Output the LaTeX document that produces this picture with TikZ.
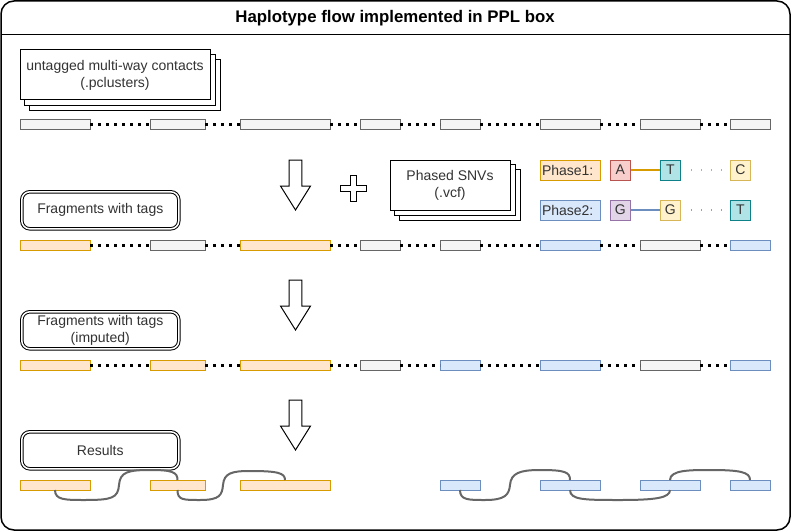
\documentclass[tikz,border=0pt]{standalone}
\usepackage{fontspec}
\setmainfont{Liberation Sans}
\definecolor{grayF}{HTML}{F5F5F5}
\definecolor{grayS}{HTML}{666666}
\definecolor{orF}{HTML}{FFE6CC}
\definecolor{orS}{HTML}{D79B00}
\definecolor{blF}{HTML}{DAE8FC}
\definecolor{blS}{HTML}{6C8EBF}
\definecolor{redF}{HTML}{F8CECC}
\definecolor{redS}{HTML}{B85450}
\definecolor{tealF}{HTML}{B0E3E6}
\definecolor{tealS}{HTML}{0E8088}
\definecolor{yelF}{HTML}{FFF2CC}
\definecolor{yelS}{HTML}{D6B656}
\definecolor{purF}{HTML}{E1D5E7}
\definecolor{purS}{HTML}{9673A6}
\definecolor{txt}{HTML}{333333}
\newcommand\bodyfont{\fontsize{14}{16.8}\selectfont}
\newcommand\titlefont{\fontsize{16.8}{20}\selectfont\bfseries}
\tikzset{
  bartype/.style={rectangle, draw, line width=1pt, minimum height=10pt, inner sep=0pt, outer sep=0pt},
  gbar/.style={bartype, fill=grayF, draw=grayS},
  obar/.style={bartype, fill=orF, draw=orS},
  bbar/.style={bartype, fill=blF, draw=blS},
  dotline/.style={line width=3pt, dash pattern=on 3pt off 5pt, black},
  link/.style={draw=grayS, line width=2pt},
  docbox/.style={draw, fill=white, line width=1pt, align=center, font=\bodyfont, text=txt, inner sep=0pt},
  dblbox/.style={draw, double, double distance=1.5pt, line width=1pt, rounded corners=8pt, fill=white,
    align=center, font=\bodyfont, text=txt, inner sep=0pt, minimum width=157pt, minimum height=37pt},
  snv/.style={draw, line width=1pt, minimum width=20pt, minimum height=20pt, inner sep=0pt, font=\bodyfont, text=txt},
  phase/.style={draw, line width=1pt, minimum height=20pt, text width=56pt, inner xsep=2pt, inner ysep=0pt, align=left, font=\bodyfont, text=txt},
  snvdots/.style={line width=1.6pt, dash pattern=on 1.6pt off 8.4pt, shorten <=10pt, shorten >=6pt},
  blockarrow/.pic={\draw[line width=1pt, fill=white] (-6.3,0) -- (6.3,0) -- (6.3,26) -- (15,26) -- (0,50) -- (-15,26) -- (-6.3,26) -- cycle;}
}
\begin{document}
\begin{tikzpicture}[x=1pt,y=-1pt]
\useasboundingbox (0,0) rectangle (792,532);
% frame
\draw[line width=1.5pt, rounded corners=13pt] (1,1) rectangle (790,530);
\draw[line width=1pt] (1,35) -- (790,35);
\node[font=\titlefont] (title) at (395,18) {Haplotype flow implemented in PPL box};

% doc stacks
\node[docbox, minimum width=190pt, minimum height=50pt] (pcl) at (115,75) {};
\draw[line width=1pt, fill=white] ([shift={(10,10)}]pcl.north west) rectangle ([shift={(10,10)}]pcl.south east);
\draw[line width=1pt, fill=white] ([shift={(5,5)}]pcl.north west) rectangle ([shift={(5,5)}]pcl.south east);
\node[docbox, minimum width=190pt, minimum height=50pt] (pclf) at (115,75) {untagged multi-way contacts\\(.pclusters)};

\node[docbox, minimum width=120pt, minimum height=50pt] (vcf) at (450,185) {};
\draw[line width=1pt, fill=white] ([shift={(10,10)}]vcf.north west) rectangle ([shift={(10,10)}]vcf.south east);
\draw[line width=1pt, fill=white] ([shift={(5,5)}]vcf.north west) rectangle ([shift={(5,5)}]vcf.south east);
\node[docbox, minimum width=120pt, minimum height=50pt] (vcff) at (450,185) {Phased SNVs\\(.vcf)};

% plus
\draw[line width=1pt, fill=white] (350,175) -- (356,175) -- (356,185) -- (366,185) -- (366,191) -- (356,191) -- (356,201) -- (350,201) -- (350,191) -- (340,191) -- (340,185) -- (350,185) -- cycle;

% arrows
\pic at (295.5,160) {blockarrow};
\pic at (295.5,280) {blockarrow};
\pic at (295.5,400) {blockarrow};

% double boxes
\node[dblbox] (frag) at (100.3,210.3) {Fragments with tags};
\node[dblbox] (fragimp) at (100.3,330.3) {Fragments with tags\\(imputed)};
\node[dblbox] (res) at (100.3,450.3) {Results};

% phase legend
\node[phase, fill=orF, draw=orS] (ph1) at (570,170) {Phase1:};
\node[phase, fill=blF, draw=blS] (ph2) at (570,210) {Phase2:};
\node[snv, fill=redF, draw=redS] (sA) at (620.3,170) {A};
\node[snv, fill=tealF, draw=tealS] (sT) at (670.3,170) {T};
\node[snv, fill=yelF, draw=yelS] (sC) at (740.3,170) {C};
\node[snv, fill=purF, draw=purS] (sG) at (620.3,210) {G};
\node[snv, fill=yelF, draw=yelS] (sG2) at (670.3,210) {G};
\node[snv, fill=tealF, draw=tealS] (sT2) at (740.3,210) {T};
\draw[orS, line width=2pt] (sA.east) -- (sT.west);
\draw[orS!80, snvdots] (sT.east) -- (sC.west);
\draw[blS, line width=2pt] (sG.east) -- (sG2.west);
\draw[blS!80, snvdots] (sG2.east) -- (sT2.west);

% row 1
\foreach \n/\c/\w/\s in {a/55/70/gbar, b/177.5/55/gbar, c/285/90/gbar, d/380/40/gbar, e/460/40/gbar, f/570/60/gbar, g/670/60/gbar, h/750/40/gbar}
  \node[\s, minimum width=\w pt] (r1\n) at (\c,125) {};
% row 2
\foreach \n/\c/\w/\s in {a/55/70/obar, b/177.5/55/gbar, c/285/90/obar, d/380/40/gbar, e/460/40/gbar, f/570/60/bbar, g/670/60/gbar, h/750/40/bbar}
  \node[\s, minimum width=\w pt] (r2\n) at (\c,245) {};
% row 3
\foreach \n/\c/\w/\s in {a/55/70/obar, b/177.5/55/obar, c/285/90/obar, d/380/40/gbar, e/460/40/bbar, f/570/60/bbar, g/670/60/gbar, h/750/40/bbar}
  \node[\s, minimum width=\w pt] (r3\n) at (\c,365) {};
% dotted connectors
\foreach \r in {1,2,3}
  \foreach \p/\q in {a/b, b/c, c/d, d/e, e/f, f/g, g/h}
    \draw[dotline] (r\r\p.east) -- (r\r\q.west);

% row 4
\foreach \n/\c/\w/\s in {a/55/70/obar, b/177.5/55/obar, c/285/90/obar, e/460/40/bbar, f/570/60/bbar, g/670/60/bbar, h/750/40/bbar}
  \node[\s, minimum width=\w pt] (r4\n) at (\c,485) {};

% links
\draw[link] (r4a.south) .. controls (55,500) and (65,500) .. (85,500) .. controls (112,500) and (118,498) .. (119,485) .. controls (120,472) and (128,470) .. (150,470) .. controls (172,470) and (177.5,472) .. (r4b.north);
\draw[link] (r4b.south) .. controls (177.5,500) and (183,500) .. (200,500) .. controls (220,500) and (222,495) .. (223,485) .. controls (224,473) and (232,471) .. (250,471) .. controls (278,471) and (285,473) .. (r4c.north);
\draw[link] (r4e.south) .. controls (460,500) and (468,500) .. (485,500) .. controls (505,500) and (509,495) .. (510,485) .. controls (511,473) and (520,470) .. (540,470) .. controls (565,470) and (570,472) .. (r4f.north);
\draw[link] (r4f.south) .. controls (570,500) and (585,500) .. (620,500) .. controls (655,500) and (670,498) .. (r4g.south);
\draw[link] (r4g.north) .. controls (670,470) and (690,470) .. (710,470) .. controls (740,470) and (750,472) .. (r4h.north);
\end{tikzpicture}
\end{document}
